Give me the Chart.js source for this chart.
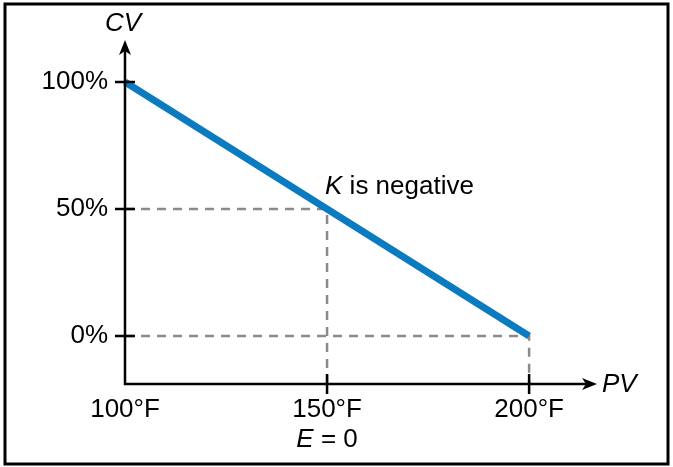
<!DOCTYPE html>
<html>
<head>
<meta charset="utf-8">
<script src="https://cdn.jsdelivr.net/npm/chart.js@4"></script>
<style>
  body { margin: 0; background: #fff; }
  #wrap { width: 673px; height: 467px; }
</style>
</head>
<body>
<div id="wrap"><canvas id="myChart" width="673" height="467"></canvas></div>
<script>
// ---- data ----
const pvTicks = [100, 150, 200];
const cvTicks = [0, 50, 100];
const pvLabels = ['100°F', '150°F', '200°F'];
const cvLabels = ['0%', '50%', '100%'];

// controller output vs process variable
const pvLine = [100, 200];
const cvLine = [100, 0];

// axis ends (where the arrows sit)
const pvMin = 100, pvMax = 216.8;
const cvMin = -18.9, cvMax = 116.5;

// dashed guides
const guideMidX = [100, 150, 150];
const guideMidY = [50, 50, cvMin];
const guideLowX = [100, 200, 200];
const guideLowY = [0, 0, cvMin];

const toPoints = (xs, ys) => xs.map((x, i) => ({ x: x, y: ys[i] }));

const FONT = '"Liberation Sans", Arial, sans-serif';
const FS = 26;

// axes with arrows, cross ticks, border and annotations
const sketchPlugin = {
	id: 'sketch',
	afterDraw(chart) {
		const ctx = chart.ctx;
		const xs = chart.scales.x;
		const ys = chart.scales.y;
		const x0 = xs.getPixelForValue(pvMin);
		const y0 = ys.getPixelForValue(cvMin);
		const xEnd = xs.getPixelForValue(pvMax);
		const yEnd = ys.getPixelForValue(cvMax);
		ctx.save();
		ctx.strokeStyle = '#000';
		ctx.fillStyle = '#000';
		ctx.lineWidth = 2.5;
		// axes
		ctx.beginPath();
		ctx.moveTo(x0, yEnd + 8);
		ctx.lineTo(x0, y0);
		ctx.lineTo(xEnd - 8, y0);
		ctx.stroke();
		// arrow heads
		ctx.beginPath();
		ctx.moveTo(x0, yEnd);
		ctx.lineTo(x0 - 6, yEnd + 15);
		ctx.lineTo(x0, yEnd + 11);
		ctx.lineTo(x0 + 6, yEnd + 15);
		ctx.closePath();
		ctx.fill();
		ctx.beginPath();
		ctx.moveTo(xEnd, y0);
		ctx.lineTo(xEnd - 15, y0 - 6);
		ctx.lineTo(xEnd - 11, y0);
		ctx.lineTo(xEnd - 15, y0 + 6);
		ctx.closePath();
		ctx.fill();
		// cross ticks
		ctx.beginPath();
		cvTicks.forEach(v => {
			const py = ys.getPixelForValue(v);
			ctx.moveTo(x0 - 10, py);
			ctx.lineTo(x0 + 10, py);
		});
		pvTicks.slice(1).forEach(v => {
			const px = xs.getPixelForValue(v);
			ctx.moveTo(px, y0 - 10);
			ctx.lineTo(px, y0 + 10);
		});
		ctx.stroke();
		// outer frame
		ctx.lineWidth = 3;
		ctx.strokeRect(5, 4, 663, 460);

		// axis titles
		ctx.font = 'italic ' + FS + 'px ' + FONT;
		ctx.textAlign = 'center';
		ctx.textBaseline = 'middle';
		ctx.fillText('CV', x0 - 2, 24);
		ctx.textAlign = 'left';
		ctx.fillText('PV', xEnd + 5, y0 + 1);

		// "K is negative"
		const kx = xs.getPixelForValue(149.5);
		const ky = ys.getPixelForValue(55.9);
		ctx.textBaseline = 'alphabetic';
		ctx.font = 'italic ' + FS + 'px ' + FONT;
		ctx.fillText('K', kx, ky);
		const kw = ctx.measureText('K ').width;
		ctx.font = FS + 'px ' + FONT;
		ctx.fillText('is negative', kx + kw, ky);

		// "E = 0" under the 150°F label
		const ex = xs.getPixelForValue(150);
		ctx.font = 'italic ' + FS + 'px ' + FONT;
		const eW = ctx.measureText('E').width;
		ctx.font = FS + 'px ' + FONT;
		const restW = ctx.measureText(' = 0').width;
		const startX = ex - (eW + restW) / 2;
		ctx.font = 'italic ' + FS + 'px ' + FONT;
		ctx.fillText('E', startX, 447);
		ctx.font = FS + 'px ' + FONT;
		ctx.fillText(' = 0', startX + eW, 447);
		ctx.restore();
	}
};

const ctx = document.getElementById('myChart').getContext('2d');
const myChart = new Chart(ctx, {
	type: 'scatter',
	data: {
		datasets: [
			{
				data: toPoints(pvLine, cvLine),
				showLine: true,
				borderColor: '#0b7bc1',
				borderWidth: 7,
				pointRadius: 0,
				clip: false
			},
			{
				data: toPoints(guideMidX, guideMidY),
				showLine: true,
				borderColor: '#8a8a8a',
				borderWidth: 2.5,
				borderDash: [9, 7],
				pointRadius: 0,
				clip: false
			},
			{
				data: toPoints(guideLowX, guideLowY),
				showLine: true,
				borderColor: '#8a8a8a',
				borderWidth: 2.5,
				borderDash: [9, 7],
				pointRadius: 0,
				clip: false
			}
		]
	},
	options: {
		responsive: false,
		animation: false,
		layout: { padding: { top: 40, right: 76, left: 0, bottom: 0 } },
		plugins: {
			legend: { display: false },
			tooltip: { enabled: false }
		},
		scales: {
			x: {
				type: 'linear',
				min: pvMin,
				max: pvMax,
				afterFit: (scale) => { scale.height = 83; },
				afterBuildTicks: (scale) => { scale.ticks = pvTicks.map(v => ({ value: v })); },
				grid: { display: false, drawTicks: false },
				border: { display: false },
				ticks: {
					padding: 10,
					color: '#000',
					font: { family: FONT, size: FS },
					maxRotation: 0,
					autoSkip: false,
					callback: (v) => pvLabels[pvTicks.indexOf(v)]
				}
			},
			y: {
				type: 'linear',
				min: cvMin,
				max: cvMax,
				afterFit: (scale) => { scale.width = 125; },
				afterBuildTicks: (scale) => { scale.ticks = cvTicks.map(v => ({ value: v })); },
				grid: { display: false, drawTicks: false },
				border: { display: false },
				ticks: {
					padding: 17,
					color: '#000',
					font: { family: FONT, size: FS },
					autoSkip: false,
					callback: (v) => cvLabels[cvTicks.indexOf(v)]
				}
			}
		}
	},
	plugins: [sketchPlugin]
});
</script>
</body>
</html>
